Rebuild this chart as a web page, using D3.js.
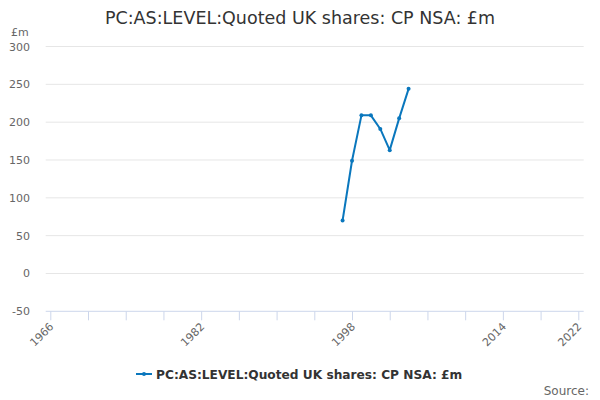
<!DOCTYPE html>
<html><head><meta charset="utf-8">
<script src="https://cdn.jsdelivr.net/npm/d3@7/dist/d3.min.js"></script>
<style>body{margin:0;background:#fff;}svg{display:block;font-family:"DejaVu Sans",sans-serif;}</style>
</head><body><svg id="c" width="600" height="400"></svg>
<script>
const title = "PC:AS:LEVEL:Quoted UK shares: CP NSA: £m";
const seriesName = "PC:AS:LEVEL:Quoted UK shares: CP NSA: £m";
const years = [1997, 1998, 1999, 2000, 2001, 2002, 2003, 2004];
const values = [70, 149, 209, 209, 191, 163, 205, 244];
const yTicks = [-50, 0, 50, 100, 150, 200, 250, 300];
const xLabelTicks = [1966, 1982, 1998, 2014, 2022];
const xMinorTicks = [1966, 1970, 1974, 1978, 1982, 1986, 1990, 1994, 1998, 2002, 2006, 2010, 2014, 2018, 2022];
const unitLabel = "£m";
const sourceLabel = "Source:";

const svg = d3.select("#c");
const plotL = 45.7, plotR = 583.7;
const x = d3.scaleLinear().domain([1966, 2022]).range([50.3, 578.3]);
const y = d3.scaleLinear().domain([-50, 300]).range([311.3, 46.5]);
const color = "#0a77bd";

svg.append("text").attr("x", 300).attr("y", 24).attr("text-anchor", "middle")
  .attr("font-size", 17.5).attr("fill", "#333").text(title);

// gridlines
svg.append("g").selectAll("line").data(yTicks.filter(d => d !== -50)).join("line")
  .attr("x1", plotL).attr("x2", plotR).attr("y1", d => y(d)).attr("y2", d => y(d))
  .attr("stroke", "#e6e6e6").attr("stroke-width", 1);

// y labels
svg.append("g").selectAll("text").data(yTicks).join("text")
  .attr("x", 30).attr("y", d => y(d) + 4).attr("text-anchor", "end")
  .attr("font-size", 11).attr("fill", "#666").text(d => d);
svg.append("text").attr("x", 11).attr("y", 36).attr("font-size", 11).attr("fill", "#666").text(unitLabel);

// x axis
const xAxis = d3.axisBottom(x).tickValues(xMinorTicks).tickSize(9).tickFormat("");
const gx = svg.append("g").attr("transform", `translate(0,${y(-50)})`).call(xAxis);
gx.select(".domain").remove();
gx.selectAll(".tick line").attr("stroke", "#ccd6eb");
svg.append("line").attr("x1", plotL).attr("x2", plotR).attr("y1", y(-50)).attr("y2", y(-50))
  .attr("stroke", "#ccd6eb");
svg.append("g").selectAll("text").data(xLabelTicks).join("text")
  .attr("transform", d => `translate(${x(d) + 4},${y(-50) + 16}) rotate(-45)`)
  .attr("text-anchor", "end").attr("font-size", 11).attr("fill", "#666").text(d => d);

// line
const pts = years.map((yr, i) => [yr, values[i]]);
svg.append("path").datum(pts)
  .attr("d", d3.line().x(d => x(d[0])).y(d => y(d[1])))
  .attr("fill", "none").attr("stroke", color).attr("stroke-width", 2)
  .attr("stroke-linejoin", "round").attr("stroke-linecap", "round");
svg.append("g").selectAll("circle").data(pts).join("circle")
  .attr("cx", d => x(d[0])).attr("cy", d => y(d[1])).attr("r", 2).attr("fill", color);

// legend
svg.append("line").attr("x1", 136).attr("x2", 152).attr("y1", 374).attr("y2", 374)
  .attr("stroke", color).attr("stroke-width", 2);
svg.append("circle").attr("cx", 144).attr("cy", 374).attr("r", 2).attr("fill", color);
svg.append("text").attr("x", 156).attr("y", 378.5).attr("font-size", 12.2).attr("font-weight", "bold")
  .attr("fill", "#333").text(seriesName);

svg.append("text").attr("x", 589).attr("y", 395).attr("text-anchor", "end")
  .attr("font-size", 12).attr("fill", "#666").text(sourceLabel);
</script></body></html>
